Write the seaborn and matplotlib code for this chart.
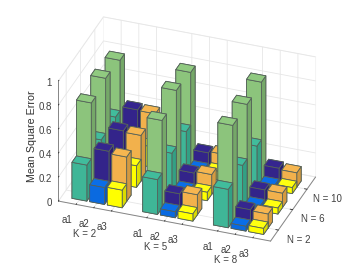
import matplotlib
matplotlib.use("Agg")
import matplotlib.pyplot as plt
from matplotlib.transforms import ScaledTranslation
import seaborn as sns
import numpy as np
import pandas as pd
from mpl_toolkits.mplot3d import Axes3D

k_labels = ["K = 2", "K = 5", "K = 8"]
a_labels = ["a1", "a2", "a3"]
n_labels = ["N = 2", "N = 6", "N = 10"]

# rows: K = 2, 5, 8 ; columns: N = 2, 6, 10
a1_front = [[.30, .34, .36], [.29, .34, .35], [.32, .35, .34]]
a1_back = [[.765, .80, .78], [.73, .81, .79], [.80, .805, .82]]
a2_front = [[.14, .15, .15], [.05, .06, .06], [.04, .04, .04]]
a2_back = [[.39, .39, .395], [.147, .15, .148], [.125, .12, .13]]
a3_front = [[.147, .18, .17], [.06, .07, .07], [.05, .05, .05]]
a3_back = [[.37, .38, .39], [.167, .165, .16], [.117, .12, .12]]

front_col = ["#3FB697", "#8CC47C", "#0A6AE0", "#33248A", "#FFFF00", "#F2B14C"]
side_col = ["#33A084", "#75A868", "#0A58BC", "#2A1E74", "#DCDC00", "#D49A40"]
top_col = ["#41BC9C", "#90CA80", "#0A6EE8", "#35268F", "#FFFF10", "#F6B650"]
series = [a1_front, a1_back, a2_front, a2_back, a3_front, a3_back]

sns.set_theme(style="white")
plt.rcParams["font.family"] = ["Liberation Sans", "DejaVu Sans"]

rows = []
for si, vals in enumerate(series):
    for ki in range(3):
        for ni in range(3):
            rows.append(dict(series=si, a=si // 2, back=si % 2, k=ki, n=ni, value=vals[ki][ni]))
df = pd.DataFrame(rows)

x_ticks = [1 + 4 * k + a for k in range(3) for a in range(3)]
df["xc"] = 1 + 4 * df["k"] + df["a"]
df["yc"] = 1 + df["n"]
width, depth = 0.84, 0.31
df["x0"] = df["xc"] - width / 2
df["y0"] = df["yc"] - depth + df["back"] * depth
df = df.sort_values(["y0", "x0"], ascending=[False, True]).reset_index(drop=True)

W = 260
fig = plt.figure(figsize=(3.62, 2.71), dpi=100)
cx, cy = 183.5, 132.5
ax = fig.add_axes([(cx - W / 2) / 362, (271 - cy - W / 2) / 271, W / 362, W / 271], projection="3d", proj_type="ortho")
ax.computed_zorder = False
ax.view_init(elev=31.2, azim=-70)
ax.set_box_aspect((225.6, 131.6, 140.3), zoom=288 / W)
ax.patch.set_alpha(0)

for i, r in df.iterrows():
    s = int(r["series"])
    colors = [side_col[s], top_col[s], front_col[s], side_col[s], side_col[s], side_col[s]]
    ax.bar3d(r["x0"], r["y0"], 0, width, depth, r["value"], color=colors, shade=False,
             edgecolor="#55625A", linewidth=0.6, zorder=10 + i)

ax.set_xlim(0, 12)
ax.set_ylim(0.46, 3.6)
ax.set_zlim(0, 1)

ax.set_xticks(x_ticks)
xt = []
for k in k_labels:
    xt += ["a1", "a2\n" + k, "a3"]
ax.set_xticklabels(xt, va="top", ha="center", fontsize=7, color="#404040", linespacing=1.0)
ax.set_yticks([1, 2, 3])
ax.set_yticklabels(n_labels, fontsize=7, color="#404040", ha="center", va="center")
ax.set_zticks([0, .2, .4, .6, .8, 1])
ax.set_zticklabels(["0", "0.2", "0.4", "0.6", "0.8", "1"], fontsize=7, color="#404040", ha="right", va="center")
ax.tick_params(axis="x", pad=-3)
ax.tick_params(axis="y", pad=0)
ax.tick_params(axis="z", pad=-1)
ax.zaxis.set_rotate_label(False)
ax.set_zlabel("Mean Square Error", rotation=90, fontsize=7.7, color="#303030", labelpad=-3)
ax.zaxis.set_ticks_position("lower")
ax.zaxis.set_label_position("lower")

def shift(artist, dx_px, dy_px):
    # Axis3D resets these transforms while drawing, so the offset is applied in the getter
    off = ScaledTranslation(dx_px / 100, dy_px / 100, fig.dpi_scale_trans)
    artist.get_transform = lambda: ax.transData + off

for lab in ax.get_xticklabels():
    shift(lab, -7, -1.5)
for lab in ax.get_yticklabels():
    shift(lab, 3, 3.5)
for lab in ax.get_zticklabels():
    shift(lab, 12, 0)
shift(ax.zaxis.label, 21, 9)

for axis in (ax.xaxis, ax.yaxis, ax.zaxis):
    axis.pane.set_facecolor((1, 1, 1, 0))
    axis.pane.set_edgecolor("#E6E6E6")
    axis.pane.set_linewidth(0.6)
    axis.line.set_color("#858585")
    axis.line.set_linewidth(0.7)
    axis._axinfo["grid"].update(color="#E6E6E6", linewidth=0.6, linestyle="-")
    axis._axinfo["tick"].update(inward_factor=0.0, outward_factor=0.15, linewidth={True: 0.6, False: 0.5}, color="#858585")
ax.grid(True)

fig.savefig("out.png", dpi=100)
